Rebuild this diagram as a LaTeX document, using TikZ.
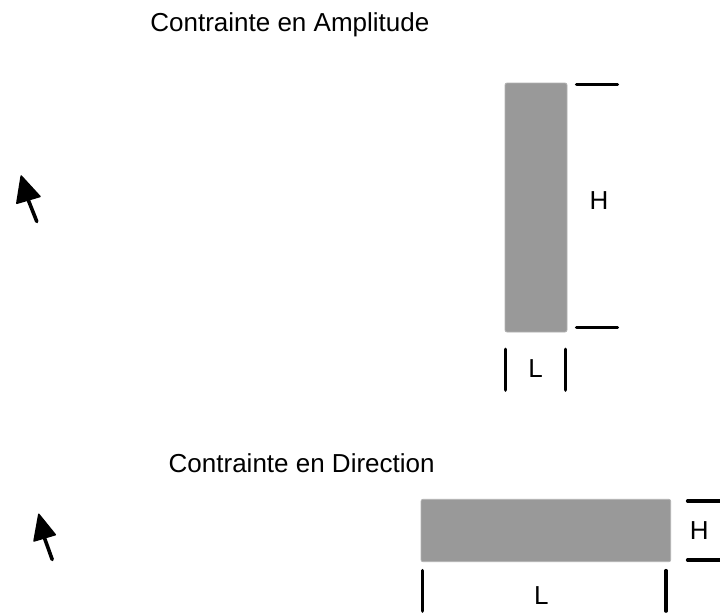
\documentclass[tikz,border=0pt]{standalone}
\usepackage{fontspec}
\setmainfont{Liberation Sans}
\tikzset{
  lbl/.style={font=\fontsize{26}{30}\selectfont, inner sep=0pt, anchor=base},
  title/.style={font=\fontsize{26}{30}\selectfont, inner sep=0pt, anchor=base west},
  bar/.style={fill=black!40, draw=black!30, line width=0.8pt, rounded corners=2pt},
  tick/.style={line width=3.2pt, line cap=round},
  shaft/.style={line width=3.6pt, line cap=round},
  head/.style={fill=black, draw=black, line width=1.5pt, line join=round}
}
\begin{document}
\begin{tikzpicture}[x=1pt,y=-1pt]
\useasboundingbox (0,0) rectangle (720,614);
% titles
\node[title] (t1) at (150.2,31.3) {Contrainte en Amplitude};
\node[title] (t2) at (168.5,472.3) {Contrainte en Direction};
% cursors
\coordinate (a1s) at (36.8,221.5);
\coordinate (a1m) at (28.4,200.3);
\coordinate (a1t) at (21.2,176);
\coordinate (a1l) at (16.8,203.3);
\coordinate (a1r) at (40,196.5);
\draw[shaft] (a1s) -- (a1m);
\draw[head] (a1t) -- (a1r) -- (a1l) -- cycle;
\coordinate (a2s) at (52.2,559.5);
\coordinate (a2m) at (44.6,538.3);
\coordinate (a2t) at (38.8,514.3);
\coordinate (a2l) at (34,541);
\coordinate (a2r) at (55.3,534.7);
\draw[shaft] (a2s) -- (a2m);
\draw[head] (a2t) -- (a2r) -- (a2l) -- cycle;
% top bar
\path[bar] (505,83) rectangle (567,332);
\coordinate (h1a) at (576.5,84.3);
\coordinate (h1b) at (617.5,84.3);
\coordinate (h2a) at (576.5,327.7);
\coordinate (h2b) at (617.5,327.7);
\draw[tick] (h1a) -- (h1b);
\draw[tick] (h2a) -- (h2b);
\coordinate (l1a) at (505.7,349.2);
\coordinate (l1b) at (505.7,390.2);
\coordinate (l2a) at (565.7,349.2);
\coordinate (l2b) at (565.7,390.2);
\draw[tick] (l1a) -- (l1b);
\draw[tick] (l2a) -- (l2b);
\node[lbl] (H1) at (599,209) {H};
\node[lbl] (L1) at (535.5,377.3) {L};
% bottom bar
\path[bar] (421,499.3) rectangle (670.7,561.7);
\coordinate (h3a) at (687.5,501);
\coordinate (h3b) at (721,501);
\coordinate (h4a) at (687.5,560);
\coordinate (h4b) at (721,560);
\draw[tick] (h3a) -- (h3b);
\draw[tick] (h4a) -- (h4b);
\coordinate (l3a) at (422.7,570.5);
\coordinate (l3b) at (422.7,611.2);
\coordinate (l4a) at (666,570.5);
\coordinate (l4b) at (666,611.2);
\draw[tick] (l3a) -- (l3b);
\draw[tick] (l4a) -- (l4b);
\node[lbl] (H2) at (699.2,539.3) {H};
\node[lbl] (L2) at (541.3,604) {L};
\end{tikzpicture}
\end{document}
